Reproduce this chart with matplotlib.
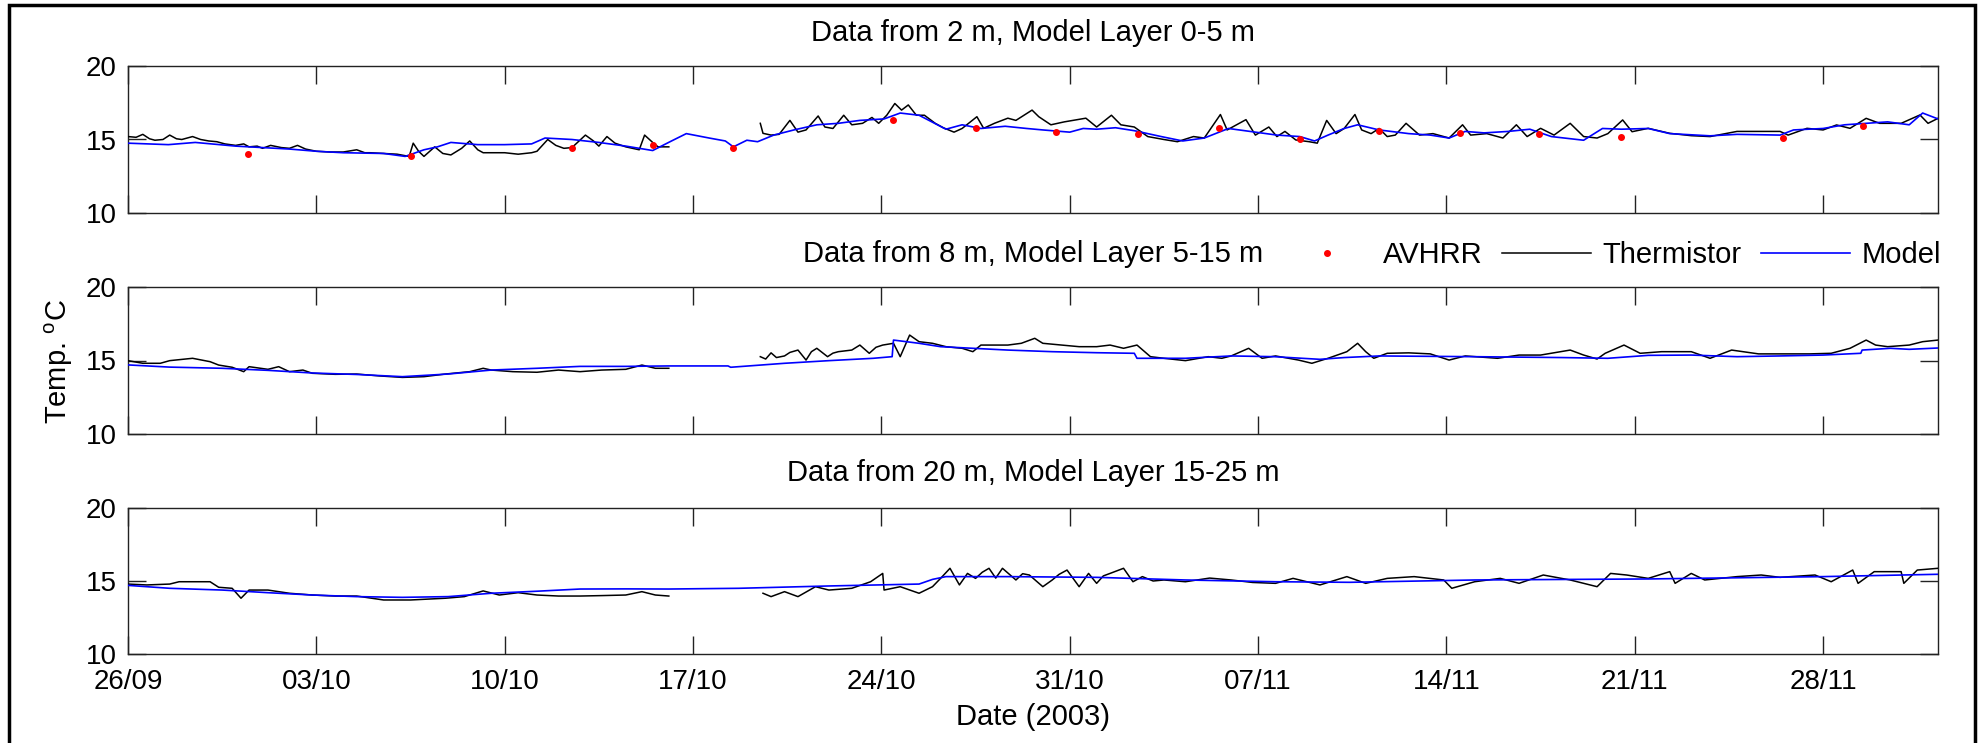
import numpy as np
import matplotlib
matplotlib.use("Agg")
import matplotlib.pyplot as plt
import matplotlib.dates as mdates
from matplotlib.patches import Rectangle
from datetime import datetime

plt.rcParams["font.family"] = ["Liberation Sans", "DejaVu Sans"]
plt.rcParams["mathtext.fontset"] = "custom"
plt.rcParams["mathtext.rm"] = "Liberation Sans"

# ---------------------------------------------------------------- data
# time is given in days after 26/09/2003 00:00
start = datetime(2003, 9, 26)
end_day = 67.27

tick_labels = ["26/09", "03/10", "10/10", "17/10", "24/10",
               "31/10", "07/11", "14/11", "21/11", "28/11"]

titles = ["Data from 2 m, Model Layer 0-5 m",
          "Data from 8 m, Model Layer 5-15 m",
          "Data from 20 m, Model Layer 15-25 m"]

# --- 2 m / 0-5 m
therm1_day = [0, 0.3, 0.55, 0.8, 1.0, 1.3, 1.55, 1.8, 2.0, 2.4, 2.7, 3.0, 3.3, 3.6,
              4.0, 4.3, 4.5, 4.8, 5.0, 5.3, 5.7, 6.0, 6.3, 6.6, 7.0, 7.5, 8.0, 8.5,
              8.8, 9.0, 9.5, 10.0, 10.45, 10.6, 10.8, 11.0, 11.4, 11.7, 12.0, 12.4,
              12.7, 13.0, 13.2, 13.6, 14.0, 14.5, 15.0, 15.2, 15.6, 15.9, 16.2, 16.5,
              17.0, 17.3, 17.5, 17.8, 18.1, 18.5, 19.0, 19.2, 19.5, 19.7, 20.1,
              21.5,
              23.5, 23.6, 23.9, 24.2, 24.6, 24.9, 25.2, 25.65, 25.9, 26.2, 26.6, 26.9,
              27.3, 27.65, 27.9, 28.2, 28.5, 28.75, 29.0, 29.3, 29.6, 30.0, 30.3, 30.7,
              31.0, 31.55, 31.8, 32.2, 32.7, 33.0, 33.6, 33.85, 34.3, 34.8, 35.6, 36.0,
              36.55, 36.9, 37.4, 37.9, 38.5, 39.0, 39.6, 40.0, 40.6, 40.85, 41.55, 41.9,
              42.4, 42.7, 43.0, 43.4, 43.9, 44.2, 44.55, 44.9, 45.2, 45.6, 45.85, 46.2,
              46.5, 46.8, 47.1, 47.5, 48.0, 48.5, 49.1, 49.6, 49.9, 50.5, 51.1, 51.6,
              52.0, 52.5, 53.0, 53.6, 54.1, 54.6, 55.0, 55.55, 55.9, 56.5, 57.3, 58.1,
              58.8, 59.8, 61.4, 61.7, 62.4, 63.0, 63.5, 64.0, 64.6, 65.1, 65.9, 66.6,
              66.9, 67.27]
therm1_val = [15.2, 15.15, 15.35, 15.05, 14.95, 15.0, 15.3, 15.05, 15.0, 15.2, 15.0, 14.9,
              14.85, 14.7, 14.6, 14.7, 14.5, 14.55, 14.4, 14.6, 14.45, 14.4, 14.6, 14.35,
              14.2, 14.15, 14.15, 14.3, 14.1, 14.1, 14.05, 14.0, 13.85, 14.75, 14.2, 13.85,
              14.5, 14.05, 13.95, 14.4, 14.9, 14.3, 14.1, 14.1, 14.1, 14.0, 14.1, 14.2,
              15.0, 14.6, 14.4, 14.45, 15.3, 14.9, 14.55, 15.2, 14.75, 14.5, 14.3, 15.3,
              14.8, 14.5, 14.5,
              np.nan,
              16.1, 15.42, 15.3, 15.35, 16.3, 15.5, 15.65, 16.6, 15.85, 15.75, 16.65, 16.0,
              16.1, 16.5, 16.1, 16.65, 17.45, 17.0, 17.35, 16.65, 16.65, 16.1, 15.8, 15.5,
              15.75, 16.55, 15.76, 16.1, 16.45, 16.3, 17.0, 16.55, 16.0, 16.2, 16.45, 15.85,
              16.65, 16.0, 15.85, 15.2, 15.0, 14.85, 15.2, 15.1, 16.7, 15.65, 16.35, 15.3,
              15.85, 15.2, 15.55, 14.97, 14.85, 14.75, 16.3, 15.4, 15.75, 16.7, 15.65, 15.4,
              15.75, 15.2, 15.3, 16.1, 15.3, 15.4, 15.1, 16.0, 15.3, 15.4, 15.1, 16.0,
              15.2, 15.76, 15.3, 16.1, 15.2, 15.1, 15.4, 16.33, 15.53, 15.76, 15.42, 15.26,
              15.2, 15.55, 15.55, 15.3, 15.76, 15.65, 15.99, 15.76, 16.44, 16.1, 16.1, 16.67,
              16.1, 16.44]

model1_day = [0, 1.5, 2.5, 4, 5, 6, 7, 8, 9.5, 10.3, 11, 11.5, 12, 13, 14, 15, 15.5,
              16.5, 17.5, 18.5, 19.5, 20.2, 20.75, 21.6, 22.2, 22.5, 23.0, 23.4, 24,
              24.75, 25.6, 26.4, 27.2, 28.1, 28.7, 29.4, 30.4, 31, 31.7, 32.6, 33.4, 34,
              35, 35.5, 36, 36.7, 37.4, 38.4, 39.2, 40, 40.9, 41.7, 42.7, 43.55, 44.1,
              44.6, 45.2, 45.7, 46.5, 47.6, 48.4, 49.1, 49.7, 50.4, 51.3, 52.1, 52.9,
              54.1, 54.8, 55.5, 56.5, 57.3, 58.8, 59.8, 61.4, 61.9, 63, 63.8, 64.6, 65.4,
              66.2, 66.7, 67.27]
model1_val = [14.75, 14.65, 14.8, 14.55, 14.45, 14.35, 14.2, 14.1, 14.05, 13.85, 14.3,
              14.5, 14.8, 14.65, 14.65, 14.7, 15.1, 15.0, 14.8, 14.55, 14.25, 14.9, 15.4,
              15.1, 14.9, 14.5, 14.95, 14.85, 15.3, 15.65, 16.0, 16.1, 16.3, 16.4, 16.8,
              16.65, 15.7, 16.0, 15.75, 15.9, 15.75, 15.65, 15.5, 15.75, 15.7, 15.8, 15.6,
              15.2, 14.9, 15.1, 15.75, 15.55, 15.3, 15.2, 14.9, 15.3, 15.75, 16.0, 15.65,
              15.4, 15.3, 15.1, 15.55, 15.45, 15.55, 15.7, 15.2, 14.95, 15.75, 15.7, 15.75,
              15.4, 15.25, 15.35, 15.3, 15.65, 15.75, 16.0, 16.1, 16.2, 16.0, 16.8, 16.4]

avhrr_day = [4.45, 10.5, 16.5, 19.5, 22.5, 28.45, 31.5, 34.5, 37.55, 40.55, 43.55,
             46.5, 49.5, 52.45, 55.5, 61.5, 64.5]
avhrr_val = [14.0, 13.85, 14.4, 14.6, 14.45, 16.3, 15.75, 15.5, 15.4, 15.8, 15.0,
             15.6, 15.45, 15.4, 15.2, 15.1, 15.9]

# --- 8 m / 5-15 m
therm2_day = [0, 0.55, 1.2, 1.55, 2.4, 3.05, 3.37, 3.87, 4.3, 4.5, 5.2, 5.6, 6.0, 6.5,
              6.85, 7.7, 8.5, 9.35, 10.2, 11.0, 11.8, 12.7, 13.2, 13.5, 14.3, 15.2, 16.0,
              16.8, 17.6, 18.5, 19.1, 19.6, 20.1,
              21.5,
              23.5, 23.7, 23.9, 24.1, 24.4, 24.6, 24.9, 25.2, 25.4, 25.6, 26.0, 26.2,
              26.4, 26.9, 27.2, 27.55, 27.8, 28.05, 28.45, 28.7, 29.05, 29.4, 29.9, 30.4,
              31.0, 31.4, 31.7, 32.7, 33.2, 33.7, 34.0, 34.7, 35.35, 36.0, 36.5, 37.0,
              37.5, 38.0, 38.5, 39.3, 40.15, 40.65, 41.0, 41.65, 42.15, 42.65, 43.5, 44.0,
              44.6, 45.3, 45.7, 46.0, 46.3, 46.8, 47.6, 48.4, 49.1, 49.7, 50.9, 51.7,
              52.5, 53.6, 54.1, 54.6, 54.9, 55.6, 56.2, 57.0, 58.1, 58.8, 59.6, 60.6,
              61.4, 62.5, 63.3, 64.0, 64.6, 64.95, 65.4, 66.2, 66.7, 67.27]
therm2_val = [14.99, 14.81, 14.81, 14.99, 15.15, 14.92, 14.69, 14.54, 14.24, 14.58, 14.4,
              14.58, 14.24, 14.35, 14.13, 14.06, 14.08, 13.95, 13.85, 13.9, 14.08, 14.24,
              14.47, 14.35, 14.24, 14.2, 14.35, 14.24, 14.35, 14.4, 14.69, 14.47, 14.47,
              np.nan,
              15.26, 15.1, 15.52, 15.2, 15.31, 15.55, 15.71, 15.03, 15.6, 15.83, 15.26,
              15.5, 15.6, 15.71, 16.05, 15.49, 15.9, 16.05, 16.17, 15.26, 16.73, 16.28,
              16.17, 15.94, 15.83, 15.6, 16.05, 16.05, 16.17, 16.51, 16.17, 16.05, 15.94,
              15.94, 16.05, 15.83, 16.05, 15.26, 15.15, 14.99, 15.26, 15.15, 15.31, 15.83,
              15.15, 15.31, 15.03, 14.81, 15.15, 15.6, 16.17, 15.6, 15.15, 15.49, 15.52,
              15.45, 15.03, 15.31, 15.15, 15.37, 15.37, 15.71, 15.37, 15.1, 15.49, 16.05,
              15.49, 15.6, 15.6, 15.15, 15.71, 15.45, 15.45, 15.45, 15.49, 15.83, 16.39,
              16.05, 15.94, 16.05, 16.28, 16.39]

model2_day = [0, 1.55, 3.5, 5.2, 6.85, 8.5, 10.2, 11.9, 13.5, 15.2, 16.8, 18.5, 20.1,
              22.3, 22.4, 24.4, 26.05, 27.7, 28.4, 28.45, 29.4, 30.2, 31.4, 32.7, 34.35,
              36.0, 37.4, 37.5, 39.3, 41.0, 42.6, 44.3, 45.2, 46.5, 50.0, 53.3, 55.0,
              56.5, 58.1, 59.8, 61.4, 63.0, 64.4, 64.45, 65.5, 66.2, 67.27]
model2_val = [14.7, 14.55, 14.47, 14.33, 14.15, 14.05, 13.9, 14.08, 14.35, 14.47, 14.6,
              14.6, 14.63, 14.63, 14.54, 14.81, 14.99, 15.15, 15.26, 16.39, 16.17, 15.94,
              15.83, 15.71, 15.6, 15.53, 15.49, 15.15, 15.15, 15.31, 15.26, 15.08, 15.2,
              15.31, 15.26, 15.2, 15.15, 15.35, 15.37, 15.26, 15.31, 15.37, 15.49, 15.71,
              15.83, 15.76, 15.85]

# --- 20 m / 15-25 m
therm3_day = [0, 0.7, 1.55, 1.9, 2.5, 3.05, 3.37, 3.87, 4.2, 4.5, 5.2, 6.0, 6.85, 7.7,
              8.5, 9.5, 10.5, 11.8, 12.5, 13.2, 13.8, 14.5, 15.2, 16.0, 16.8, 17.6,
              18.5, 19.1, 19.6, 20.1,
              21.5,
              23.6, 23.9, 24.4, 24.9, 25.55, 26.05, 26.9, 27.6, 28.05, 28.1, 28.7, 29.4,
              29.9, 30.2, 30.55, 30.9, 31.2, 31.5, 31.75, 32.0, 32.25, 32.5, 33.0, 33.25,
              33.5, 34.0, 34.35, 34.6, 34.9, 35.35, 35.7, 36.0, 36.25, 36.5, 37.0, 37.35,
              37.7, 38.1, 38.5, 39.3, 40.2, 41.0, 41.8, 42.65, 43.3, 44.3, 45.3, 46.0,
              46.8, 47.8, 48.9, 49.2, 50.05, 51.0, 51.7, 52.6, 53.6, 54.6, 55.1, 55.7,
              56.5, 57.3, 57.5, 58.1, 58.6, 59.8, 60.7, 61.4, 62.7, 63.3, 64.1, 64.3,
              64.9, 65.9, 66.0, 66.5, 67.27]
therm3_val = [14.79, 14.73, 14.79, 14.95, 14.95, 14.95, 14.57, 14.5, 13.82, 14.38, 14.38,
              14.16, 14.04, 13.97, 13.97, 13.7, 13.7, 13.82, 13.93, 14.32, 14.04, 14.2,
              14.04, 13.97, 13.97, 14.0, 14.04, 14.27, 14.04, 13.97,
              np.nan,
              14.16, 13.93, 14.27, 13.93, 14.61, 14.38, 14.5, 14.95, 15.52, 14.38, 14.61,
              14.16, 14.61, 15.18, 15.87, 14.73, 15.52, 15.18, 15.6, 15.87, 15.2, 15.87,
              15.07, 15.5, 15.41, 14.61, 15.07, 15.45, 15.75, 14.61, 15.52, 14.84, 15.35,
              15.52, 15.87, 14.95, 15.3, 15.0, 15.07, 14.95, 15.2, 15.07, 14.9, 14.84,
              15.18, 14.73, 15.3, 14.84, 15.18, 15.3, 15.07, 14.5, 14.95, 15.18, 14.84,
              15.41, 15.07, 14.61, 15.52, 15.41, 15.18, 15.64, 14.84, 15.52, 15.07, 15.3,
              15.41, 15.25, 15.41, 14.95, 15.75, 14.84, 15.64, 15.64, 14.84, 15.75, 15.87]

model3_day = [0, 1.55, 3.5, 5.2, 6.85, 8.5, 10.2, 11.9, 13.5, 15.2, 16.8, 18.5, 20.1,
              22.7, 26.05, 29.4, 29.9, 30.4, 32.7, 36.0, 39.3, 42.65, 45.4, 50.05, 56.5,
              63.0, 67.27]
model3_val = [14.7, 14.5, 14.38, 14.2, 14.04, 13.93, 13.88, 13.93, 14.16, 14.3, 14.45,
              14.46, 14.45, 14.5, 14.66, 14.79, 15.11, 15.3, 15.3, 15.25, 15.07, 14.95,
              14.91, 15.07, 15.14, 15.3, 15.46]

panels = [
    (therm1_day, therm1_val, model1_day, model1_val, avhrr_day, avhrr_val),
    (therm2_day, therm2_val, model2_day, model2_val, None, None),
    (therm3_day, therm3_val, model3_day, model3_val, None, None),
]

# ---------------------------------------------------------------- figure
W, H = 1982, 743
fig = plt.figure(figsize=(W / 100, H / 100), dpi=100)
fig.patch.set_facecolor("white")

base = mdates.date2num(start)
tick_pos = [mdates.date2num(datetime.strptime(t + "/2003", "%d/%m/%Y")) for t in tick_labels]

left, right = 128 / W, 1938 / W
rows = [(66, 213), (287, 434), (508, 654)]
FS_TICK = 20
FS = 21

axes = []
for i, ((td, tv, md, mv, ad, av), (top, bot)) in enumerate(zip(panels, rows)):
    ax = fig.add_axes([left, 1 - bot / H, right - left, (bot - top) / H])
    axes.append(ax)
    ax.plot(base + np.asarray(td), tv, color="black", lw=1.1, zorder=3)
    ax.plot(base + np.asarray(md), mv, color="#0000ff", lw=1.2, zorder=4)
    if ad is not None:
        ax.plot(base + np.asarray(ad), av, ls="none", marker="o", ms=4,
                color="#ff0000", mec="#ff0000", zorder=5)
    ax.set_xlim(base, base + end_day)
    ax.set_ylim(10, 20)
    ax.set_yticks([10, 15, 20])
    ax.set_xticks(tick_pos)
    if i == 2:
        ax.set_xticklabels(tick_labels)
    else:
        ax.set_xticklabels([])
    ax.tick_params(direction="in", length=13, width=1.0, color="#222222",
                   top=True, right=True, labelsize=FS_TICK, pad=8)
    ax.tick_params(axis="x", pad=11)
    for s in ax.spines.values():
        s.set_linewidth(1.0)
        s.set_color("#222222")
    ax.text(0.5, 1 + (33 if i != 2 else 35) / (bot - top), titles[i],
            transform=ax.transAxes, ha="center", va="center", fontsize=FS)

# legend in the row of the second title
handles = [
    plt.Line2D([], [], ls="none", marker="o", ms=4, color="#ff0000"),
    plt.Line2D([], [], color="black", lw=1.1),
    plt.Line2D([], [], color="#0000ff", lw=1.2),
]
fig.legend(handles, ["AVHRR", "Thermistor", "Model"], ncol=3, frameon=False,
           loc="center", bbox_to_anchor=(1612 / W, 1 - 255 / H), fontsize=FS,
           handlelength=3.05, handletextpad=0.38, columnspacing=0.68,
           borderpad=0, borderaxespad=0)

fig.text(59 / W, 1 - 362 / H, "Temp. $^{\\rm o}$C", rotation=90,
         ha="center", va="center", fontsize=FS)
fig.text((128 + 1938) / 2 / W, 1 - 717 / H, "Date (2003)",
         ha="center", va="center", fontsize=FS)

# outer frame, open at the bottom edge
fig.patches.append(Rectangle((9 / W, -0.05), (1975 - 9) / W, 1.05 - 5 / H,
                             transform=fig.transFigure, fill=False,
                             lw=2.5, ec="black"))

fig.savefig("out.png", dpi=100, facecolor="white")
